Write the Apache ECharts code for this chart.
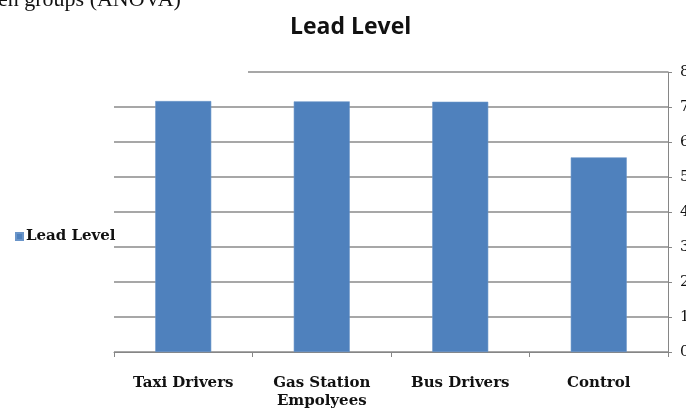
<!DOCTYPE html>
<html><head><meta charset="utf-8">
<script src="https://cdn.jsdelivr.net/npm/echarts@6/dist/echarts.min.js"></script>
<style>html,body{margin:0;padding:0;background:#fff}#c{width:686px;height:409px}</style>
</head><body><div id="c"></div>
<script>
var categories = ['Taxi Drivers', 'Gas Station\nEmpolyees', 'Bus Drivers', 'Control'];
var leadLevel = [7.17, 7.16, 7.15, 5.56];
var yTicks = ['0','1','2','3','4','5','6','7','8'];
var seriesName = 'Lead Level';
var titleText = 'Lead Level';
var headerText = 'en groups (ANOVA)';

var chart = echarts.init(document.getElementById('c'));
chart.setOption({
  animation: false,
  backgroundColor: '#fff',
  title: {
    text: titleText, left: 285, top: 11,
    textStyle: {fontFamily: 'Open Sans', fontWeight: 700, fontSize: 23, color: '#111'}
  },
  legend: {
    orient: 'vertical', left: 10, top: 224,
    itemWidth: 7, itemHeight: 7, itemGap: 4,
    icon: 'rect',
    textStyle: {fontFamily: 'DejaVu Serif', fontWeight: 'bold', fontSize: 15, color: '#111', padding: [0,0,0,-2]},
    data: [seriesName]
  },
  graphic: [
    {type: 'text', left: -2, top: -11, style: {text: headerText, font: '22px "Liberation Serif"', fill: '#111'}},
    {type: 'rect', shape: {x: 112, y: 70, width: 136, height: 4}, style: {fill: '#fff'}, z: 100}
  ],
  grid: {left: 114, right: 18, top: 72, bottom: 57, containLabel: false, outerBoundsMode: 'none'},
  xAxis: {
    type: 'category', data: categories, boundaryGap: true,
    axisLine: {show: true, lineStyle: {color: '#868686', width: 1}},
    axisTick: {show: true, length: 5, alignWithLabel: false, lineStyle: {color: '#868686'}},
    axisLabel: {fontFamily: 'DejaVu Serif', fontWeight: 'bold', fontSize: 15, color: '#111', margin: 22, lineHeight: 18, interval: 0}
  },
  yAxis: {
    type: 'value', position: 'right', min: 0, max: 8, interval: 1,
    axisLine: {show: true, lineStyle: {color: '#868686', width: 1}},
    axisTick: {show: true, length: 4, lineStyle: {color: '#868686'}},
    axisLabel: {fontFamily: 'DejaVu Serif', fontSize: 15, color: '#111', margin: 12,
      formatter: function (v) { return yTicks[v]; }},
    splitLine: {show: true, lineStyle: {color: '#8a8a8a', width: 1.5}}
  },
  series: [{
    name: seriesName, type: 'bar', data: leadLevel, barWidth: 56,
    itemStyle: {color: '#4F81BD', borderColor: '#6a95c9', borderWidth: 0.6}
  }]
});
</script></body></html>
